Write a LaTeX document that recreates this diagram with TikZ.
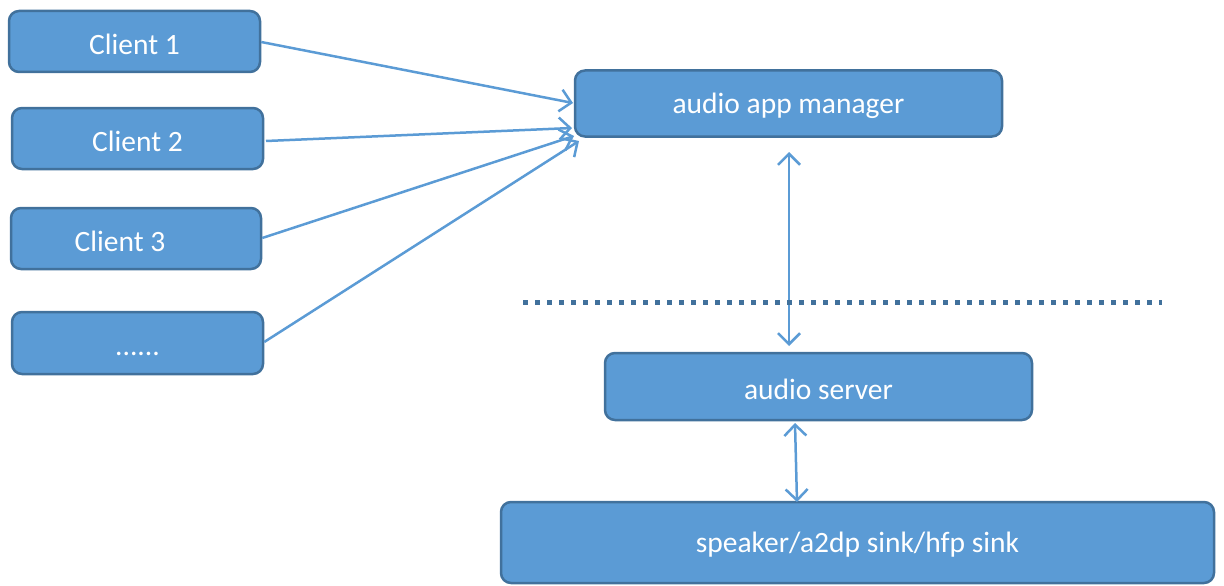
\documentclass[tikz,border=0pt]{standalone}
\usepackage{fontspec}
\setmainfont{Carlito}
\usetikzlibrary{arrows.meta}
\definecolor{boxfill}{HTML}{5B9BD5}
\definecolor{boxline}{HTML}{41719C}
\definecolor{linkcol}{HTML}{5B9BD5}
\begin{document}
\begin{tikzpicture}[x=1pt,y=-1pt,
  blk/.style={draw=boxline, fill=boxfill, line width=2.5pt, rounded corners=10pt,
    inner sep=0pt, text=white, font=\fontsize{29.5}{34}\selectfont},
  lbl/.style={text=white, inner sep=0pt, font=\fontsize{29.5}{34}\selectfont},
  link/.style={draw=linkcol, line width=2.5pt,
    -{Straight Barb[length=11pt,width=22pt,line width=2.5pt]}},
  dlink/.style={draw=linkcol, line width=2.5pt,
    {Straight Barb[length=11pt,width=22pt,line width=2.5pt]}-{Straight Barb[length=11pt,width=22pt,line width=2.5pt]}}]
\useasboundingbox (0,0) rectangle (1224,586);

% client boxes on the left
\node[blk, minimum width=251pt, minimum height=61pt] (c1) at (134.5,41.5) {};
\node[lbl] (c1t) at (134.5,44) {Client 1};
\node[blk, minimum width=251pt, minimum height=61pt] (c2) at (137.5,138.5) {};
\node[lbl] (c2t) at (137.5,141) {Client 2};
\node[blk, minimum width=250pt, minimum height=61pt] (c3) at (136,238.5) {};
\node[lbl] (c3t) at (120,241) {Client 3};
\node[blk, minimum width=251pt, minimum height=62pt] (c4) at (137.5,343) {};
\node[lbl, anchor=base] (c4t) at (137.5,355) {......};

% service boxes
\node[blk, minimum width=427pt, minimum height=66pt] (mgr) at (788.5,103.5) {};
\node[lbl] (mgrt) at (788.5,106) {audio app manager};
\node[blk, minimum width=427pt, minimum height=67pt] (srv) at (818.5,386.5) {};
\node[lbl] (srvt) at (818.5,389) {audio server};
\node[blk, minimum width=713pt, minimum height=81pt] (sink) at (857.5,542.5) {};
\node[lbl] (sinkt) at (857.5,545) {speaker/a2dp sink/hfp sink};

% anchor points of the connectors
\coordinate (m1) at (573,103);
\coordinate (m2) at (572,128);
\coordinate (m3) at (574,136);
\coordinate (m4) at (579,141);
\coordinate (mt) at (789,152);
\coordinate (sb) at (789,346);
\coordinate (st) at (795,423);
\coordinate (kb) at (797,502);

\draw[link] (c1.east |- 0,42) -- (m1);
\draw[link] (266,141) -- (m2);
\draw[link] (c3.east |- 0,238) -- (m3);
\draw[link] (c4.east |- 0,342) -- (m4);

\draw[dlink] (mt) -- (sb);
\draw[dlink] (st) -- (kb);

% boundary line between the layers
\coordinate (d1) at (523,302);
\coordinate (d2) at (1162,302);
\draw[boxline, line width=5pt, dash pattern=on 5pt off 7pt] (d1) -- (d2);
\end{tikzpicture}
\end{document}
